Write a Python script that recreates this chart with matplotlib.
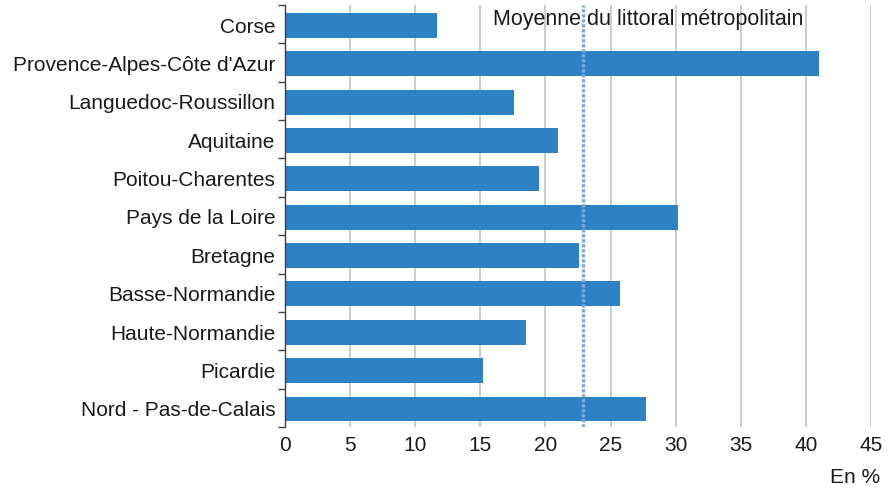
import numpy as np
import matplotlib
matplotlib.use("Agg")
import matplotlib.pyplot as plt

plt.rcParams['font.family'] = ['Liberation Sans', 'DejaVu Sans']

regions = ["Corse", "Provence-Alpes-Côte d'Azur", "Languedoc-Roussillon", "Aquitaine",
           "Poitou-Charentes", "Pays de la Loire", "Bretagne", "Basse-Normandie",
           "Haute-Normandie", "Picardie", "Nord - Pas-de-Calais"]
values = [11.7, 41.0, 17.6, 21.0, 19.5, 30.2, 22.6, 25.7, 18.5, 15.2, 27.7]
moyenne = 22.9
moyenne_label = "Moyenne du littoral métropolitain"
xticks = [0, 5, 10, 15, 20, 25, 30, 35, 40, 45]

fig = plt.figure(figsize=(8.89, 4.89), dpi=100)
ax = fig.add_axes([285 / 889, 1 - 428 / 489, 586 / 889, 422 / 489])

y = np.arange(len(regions))
ax.barh(y + 0.03, values, height=0.65, color='#2E81C5', zorder=2)

# ligne de la moyenne
ax.axvline(moyenne, color='#7FA8DC', lw=2.4, ls=(0, (1, 0.5)), zorder=3)
ax.text(16.0, -0.16, moyenne_label, fontsize=15.5, color='#1a1a1a', va='center', ha='left', zorder=4)

ax.set_xlim(0, 45)
ax.set_ylim(len(regions) - 0.5, -0.5)
ax.set_xticks(xticks)
ax.set_yticks(y)
ax.set_yticklabels(regions, fontsize=15, color='#1a1a1a')
ax.set_yticks(np.arange(-0.5, len(regions), 1), minor=True)
ax.tick_params(axis='y', which='major', length=0, pad=7)
ax.tick_params(axis='y', which='minor', length=5, color='#404040', width=1)
ax.tick_params(axis='x', length=0, labelsize=15, labelcolor='#1a1a1a', pad=6)

ax.grid(axis='x', color='#C0C3C8', lw=1.2, zorder=1)
for s in ['top', 'right', 'bottom']:
    ax.spines[s].set_visible(False)
ax.spines['left'].set_color('#404040')
ax.spines['left'].set_linewidth(1)

fig.text(880 / 889, 1 - 478 / 489, "En %", fontsize=15, color='#1a1a1a', ha='right', va='center')

fig.savefig("out.png", dpi=100)
